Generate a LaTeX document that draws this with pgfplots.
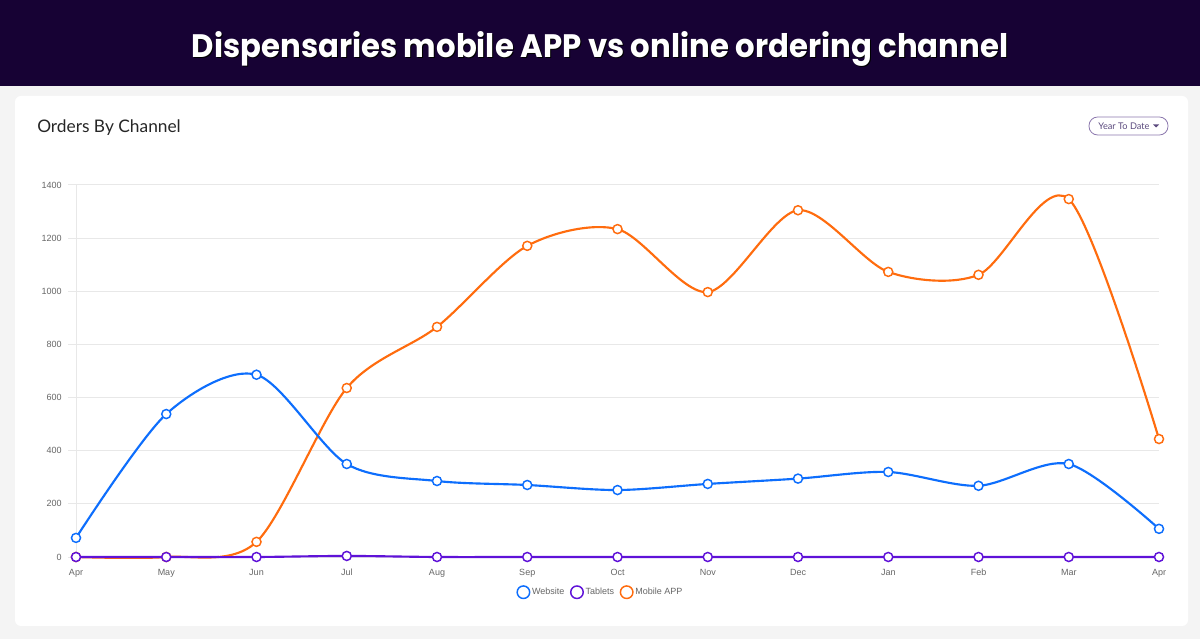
\documentclass[border=0pt]{standalone}
\usepackage{pgfplots}
\pgfplotsset{compat=1.18}
\usepackage{fontspec}
\setmainfont{Liberation Sans}
\newfontfamily\titlefont{Poppins}
\newfontfamily\latofont{Lato}

\definecolor{banner}{HTML}{170234}
\definecolor{pagebg}{HTML}{F4F4F4}
\definecolor{gridcol}{HTML}{E8E8E8}
\definecolor{tickcol}{HTML}{666666}
\definecolor{webcol}{HTML}{0D6EFD}
\definecolor{tabcol}{HTML}{5F12D8}
\definecolor{appcol}{HTML}{FF6C0E}
\definecolor{btncol}{HTML}{8C78AE}
\definecolor{btntext}{HTML}{5B4A7E}

\begin{document}
\begin{tikzpicture}[x=0.75pt,y=0.75pt]
% page, banner, card (coordinates in px, y up)
\fill[pagebg] (0,0) rectangle (1200,639);
\fill[banner] (0,553) rectangle (1200,639);
\fill[white, rounded corners=4.5pt] (15,13) rectangle (1188,543);

\node[anchor=base, inner sep=0, text=black] at (601,580) {\resizebox{612pt}{19.5pt}{\titlefont\bfseries Dispensaries mobile APP vs online ordering channel}};
\node[anchor=base, inner sep=0, text=white] at (600,581) {\resizebox{612pt}{19.5pt}{\titlefont\bfseries Dispensaries mobile APP vs online ordering channel}};

\node[anchor=base west, inner sep=0, text=black!85] at (37,506.5) {\latofont\fontsize{13pt}{15pt}\selectfont Orders By Channel};

\draw[btncol, line width=0.6pt, rounded corners=6.5pt] (1089,504) rectangle (1168,522);
\node[anchor=west, inner sep=0, text=btntext] at (1098,513) {\latofont\fontsize{6.9pt}{8pt}\selectfont Year To Date};
\fill[btntext] (1153,514.5) -- (1159,514.5) -- (1156,511.5) -- cycle;

% ymin a little below 0 so that the zero line is not cut in half by the clip
\begin{axis}[
    at={(57pt,60.3pt)}, anchor=south west,
    scale only axis, width=812.25pt, height=280.2pt,
    xmin=0, xmax=12, ymin=-6, ymax=1400,
    axis x line*=bottom, axis y line*=left,
    x axis line style={draw=none},
    y axis line style={draw=gridcol, line width=0.75pt, -},
    xtick={0,...,12},
    xticklabels={Apr,May,Jun,Jul,Aug,Sep,Oct,Nov,Dec,Jan,Feb,Mar,Apr},
    ytick={0,200,...,1400},
    ymajorgrids, major grid style={draw=gridcol, line width=0.75pt},
    tick align=outside, major tick length=6pt,
    ytick style={draw=gridcol, line width=0.75pt},
    xtick style={draw=none},
    ticklabel style={font=\fontsize{6.75pt}{8pt}\selectfont, text=tickcol},
    yticklabel style={xshift=-1.2pt},
    xticklabel style={yshift=1.7pt},
    /pgf/number format/assume math mode=true,
    /pgf/number format/1000 sep={},
    clip mode=individual,
    every axis plot/.append style={smooth, tension=0.5, line width=1.6pt,
        mark=*, mark size=3.4pt},
    legend style={at={(0.484,-0.09)}, anchor=center, draw=none, fill=none,
        legend columns=-1, font=\fontsize{6.75pt}{8pt}\selectfont, text=tickcol,
        /tikz/every even column/.append style={column sep=3pt},
        nodes={inner sep=1.2pt}},
    legend image code/.code={\draw[#1, line width=1.1pt, fill=white, mark=none] (4.7pt,0) circle (4.7pt);},
]
\addlegendimage{webcol}
\addlegendentry{Website}
\addlegendimage{tabcol}
\addlegendentry{Tablets}
\addlegendimage{appcol}
\addlegendentry{Mobile APP}

\addplot[appcol, mark options={draw=appcol, fill=white, line width=1.1pt}, forget plot] coordinates {
 (0,0) (1,0) (2,57) (3,636) (4,866) (5,1171) (6,1234) (7,997) (8,1305) (9,1073) (10,1062) (11,1347) (12,444)};
\addplot[tabcol, mark options={draw=tabcol, fill=white, line width=1.1pt}, forget plot] coordinates {
 (0,0) (1,0) (2,0) (3,4) (4,0) (5,0) (6,0) (7,0) (8,0) (9,0) (10,0) (11,0) (12,0)};
\addplot[webcol, mark options={draw=webcol, fill=white, line width=1.1pt}, forget plot] coordinates {
 (0,72) (1,538) (2,686) (3,350) (4,286) (5,271) (6,252) (7,275) (8,295) (9,320) (10,268) (11,350) (12,106)};
\end{axis}
\end{tikzpicture}
\end{document}
